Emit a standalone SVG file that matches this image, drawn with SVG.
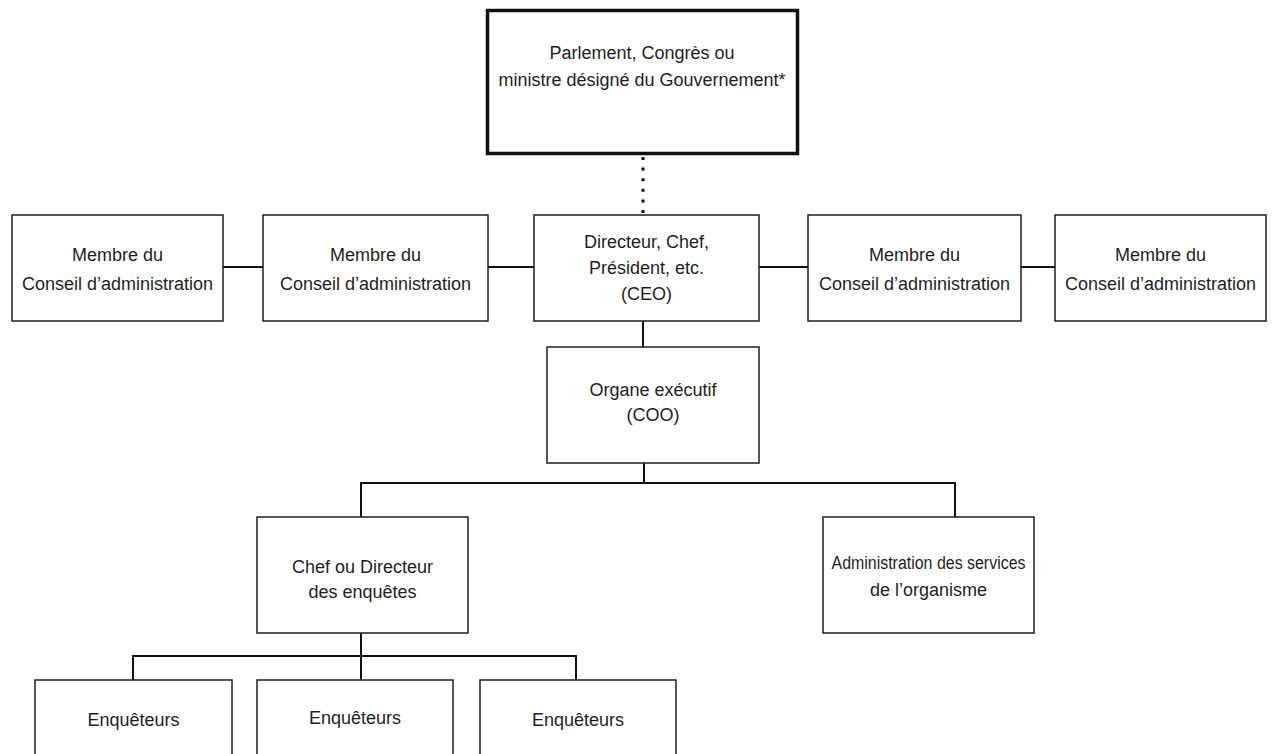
<svg xmlns="http://www.w3.org/2000/svg" width="1272" height="754" viewBox="0 0 1272 754">
<style>
.box{fill:#fff;stroke:#1e1e1e;stroke-width:1.5}
.top{fill:#fff;stroke:#111;stroke-width:3.5}
.ln{fill:none;stroke:#111;stroke-width:2}
.dot{fill:none;stroke:#111;stroke-width:3;stroke-dasharray:3 7.6}
text{font-family:"Liberation Sans",Arial,sans-serif;font-size:18px;fill:#1e1e1e;text-anchor:middle}
</style>
<rect width="1272" height="754" fill="#fff"/>
<g id="connectors">
<line class="dot" x1="643" y1="157" x2="643" y2="214"/>
<line class="ln" x1="223" y1="267" x2="263" y2="267"/>
<line class="ln" x1="488" y1="267" x2="534" y2="267"/>
<line class="ln" x1="759" y1="267" x2="808" y2="267"/>
<line class="ln" x1="1021" y1="267" x2="1055" y2="267"/>
<line class="ln" x1="643" y1="321" x2="643" y2="347"/>
<polyline class="ln" points="644,463 644,483"/>
<polyline class="ln" points="361,517 361,483 955,483 955,517"/>
<line class="ln" x1="361" y1="633" x2="361" y2="680"/>
<polyline class="ln" points="133,680 133,656 576,656 576,680"/>
</g>
<g id="parlement">
<rect class="top" x="487.5" y="10.5" width="310" height="143"/>
<text x="642" y="59">Parlement, Congrès ou</text>
<text x="642" y="86">ministre désigné du Gouvernement*</text>
</g>
<g id="membre1">
<rect class="box" x="12" y="215" width="211" height="106"/>
<text x="117.5" y="261">Membre du</text>
<text x="117.5" y="290">Conseil d’administration</text>
</g>
<g id="membre2">
<rect class="box" x="263" y="215" width="225" height="106"/>
<text x="375.5" y="261">Membre du</text>
<text x="375.5" y="290">Conseil d’administration</text>
</g>
<g id="ceo">
<rect class="box" x="534" y="215" width="225" height="106"/>
<text x="646.5" y="248">Directeur, Chef,</text>
<text x="646.5" y="274">Président, etc.</text>
<text x="646.5" y="300">(CEO)</text>
</g>
<g id="membre3">
<rect class="box" x="808" y="215" width="213" height="106"/>
<text x="914.5" y="261">Membre du</text>
<text x="914.5" y="290">Conseil d’administration</text>
</g>
<g id="membre4">
<rect class="box" x="1055" y="215" width="211" height="106"/>
<text x="1160.5" y="261">Membre du</text>
<text x="1160.5" y="290">Conseil d’administration</text>
</g>
<g id="coo">
<rect class="box" x="547" y="347" width="212" height="116"/>
<text x="653" y="396">Organe exécutif</text>
<text x="653" y="421">(COO)</text>
</g>
<g id="chef-enquetes">
<rect class="box" x="257" y="517" width="211" height="116"/>
<text x="362.5" y="573">Chef ou Directeur</text>
<text x="362.5" y="598">des enquêtes</text>
</g>
<g id="admin-services">
<rect class="box" x="823" y="517" width="211" height="116"/>
<text x="928.5" y="569" textLength="194" lengthAdjust="spacingAndGlyphs">Administration des services</text>
<text x="928.5" y="596">de l’organisme</text>
</g>
<g id="enqueteurs1">
<rect class="box" x="35" y="680" width="197" height="90"/>
<text x="133.5" y="726">Enquêteurs</text>
</g>
<g id="enqueteurs2">
<rect class="box" x="257" y="680" width="196" height="90"/>
<text x="355" y="724">Enquêteurs</text>
</g>
<g id="enqueteurs3">
<rect class="box" x="480" y="680" width="196" height="90"/>
<text x="578" y="726">Enquêteurs</text>
</g>
</svg>
